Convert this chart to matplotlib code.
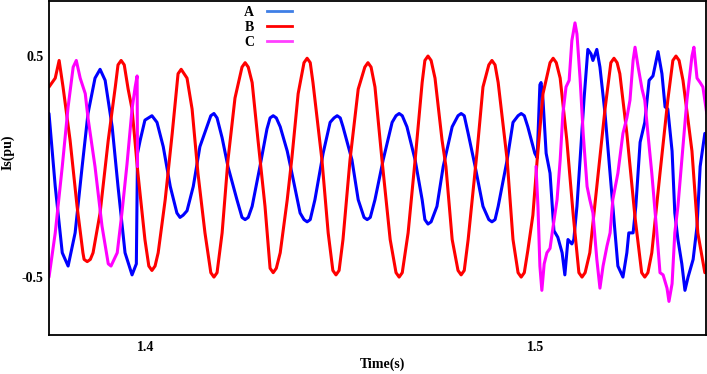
import numpy as np
import matplotlib.pyplot as plt
from matplotlib.lines import Line2D

# phase A current (pu)
t_a = [1.3751, 1.3767, 1.3785, 1.3800, 1.3818, 1.3836, 1.3851, 1.3869, 1.3882, 1.3895,
       1.3913, 1.3928, 1.3946, 1.3964, 1.3975, 1.3978, 1.3985, 1.3997, 1.4015, 1.4028,
       1.4044, 1.4062, 1.4079, 1.4087, 1.4095, 1.4105, 1.4121, 1.4138, 1.4156, 1.4166,
       1.4174, 1.4182, 1.4195, 1.4210, 1.4233, 1.4246, 1.4254, 1.4262, 1.4272, 1.4292,
       1.4310, 1.4318, 1.4326, 1.4334, 1.4344, 1.4362, 1.4374, 1.4395, 1.4405, 1.4413,
       1.4421, 1.4433, 1.4454, 1.4472, 1.4482, 1.4490, 1.4498, 1.4505, 1.4528, 1.4544,
       1.4559, 1.4567, 1.4575, 1.4587, 1.4608, 1.4631, 1.4641, 1.4649, 1.4657, 1.4669,
       1.4690, 1.4708, 1.4715, 1.4723, 1.4731, 1.4746, 1.4762, 1.4785, 1.4800, 1.4808,
       1.4816, 1.4826, 1.4844, 1.4864, 1.4879, 1.4887, 1.4895, 1.4903, 1.4926, 1.4941,
       1.4954, 1.4962, 1.4970, 1.4979, 1.4997, 1.5003, 1.5010, 1.5013, 1.5018, 1.5026,
       1.5036, 1.5046, 1.5056, 1.5067, 1.5074, 1.5082, 1.5092, 1.5097, 1.5105, 1.5113,
       1.5123, 1.5133, 1.5141, 1.5146, 1.5156, 1.5164, 1.5177, 1.5190, 1.5203, 1.5210,
       1.5223, 1.5233, 1.5238, 1.5249, 1.5256, 1.5267, 1.5279, 1.5290, 1.5300, 1.5313,
       1.5323, 1.5331, 1.5338, 1.5349, 1.5356, 1.5364, 1.5374, 1.5382, 1.5390, 1.5403,
       1.5413, 1.5421, 1.5433]
i_a = [0.24, -0.09, -0.39, -0.45, -0.30, 0.00, 0.24, 0.40, 0.44, 0.39,
       0.18, -0.09, -0.39, -0.49, -0.44, 0.06, 0.12, 0.21, 0.23, 0.20,
       0.09, -0.09, -0.21, -0.23, -0.22, -0.20, -0.09, 0.09, 0.18, 0.23,
       0.24, 0.22, 0.13, 0.00, -0.15, -0.23, -0.24, -0.23, -0.18, 0.00,
       0.17, 0.22, 0.23, 0.22, 0.18, 0.07, -0.03, -0.21, -0.24, -0.25,
       -0.24, -0.15, 0.06, 0.20, 0.22, 0.23, 0.22, 0.18, 0.03, -0.15,
       -0.23, -0.24, -0.23, -0.15, 0.03, 0.20, 0.23, 0.24, 0.23, 0.18,
       0.03, -0.15, -0.24, -0.26, -0.25, -0.18, 0.00, 0.18, 0.23, 0.24,
       0.23, 0.15, 0.00, -0.18, -0.24, -0.25, -0.24, -0.18, 0.03, 0.20,
       0.23, 0.24, 0.23, 0.18, 0.06, 0.04, 0.37, 0.38, 0.30, 0.06,
       -0.03, -0.29, -0.32, -0.39, -0.49, -0.33, -0.35, -0.33, -0.18, 0.03,
       0.30, 0.53, 0.51, 0.48, 0.53, 0.45, 0.24, -0.03, -0.30, -0.45,
       -0.50, -0.39, -0.30, -0.30, -0.18, 0.11, 0.20, 0.39, 0.41, 0.52,
       0.42, 0.27, 0.26, 0.07, -0.21, -0.33, -0.44, -0.56, -0.50, -0.42,
       -0.27, 0.00, 0.15]

# phase B current (pu)
t_b = [1.3751, 1.3767, 1.3777, 1.3787, 1.3805, 1.3823, 1.3838, 1.3841, 1.3849, 1.3857,
       1.3864, 1.3882, 1.3903, 1.3921, 1.3928, 1.3936, 1.3944, 1.3954, 1.3964, 1.3979,
       1.3997, 1.4007, 1.4015, 1.4023, 1.4031, 1.4049, 1.4067, 1.4082, 1.4090, 1.4105,
       1.4118, 1.4133, 1.4151, 1.4166, 1.4174, 1.4182, 1.4195, 1.4210, 1.4228, 1.4246,
       1.4254, 1.4262, 1.4272, 1.4287, 1.4305, 1.4318, 1.4326, 1.4334, 1.4344, 1.4362,
       1.4374, 1.4390, 1.4405, 1.4413, 1.4421, 1.4428, 1.4451, 1.4467, 1.4479, 1.4487,
       1.4495, 1.4505, 1.4523, 1.4544, 1.4561, 1.4569, 1.4577, 1.4587, 1.4605, 1.4626,
       1.4641, 1.4649, 1.4657, 1.4672, 1.4690, 1.4708, 1.4715, 1.4723, 1.4731, 1.4741,
       1.4759, 1.4769, 1.4785, 1.4800, 1.4808, 1.4816, 1.4826, 1.4849, 1.4864, 1.4879,
       1.4887, 1.4895, 1.4903, 1.4926, 1.4941, 1.4954, 1.4962, 1.4970, 1.4979, 1.4992,
       1.5003, 1.5018, 1.5036, 1.5044, 1.5052, 1.5062, 1.5079, 1.5095, 1.5110, 1.5118,
       1.5126, 1.5138, 1.5156, 1.5177, 1.5192, 1.5200, 1.5208, 1.5215, 1.5233, 1.5254,
       1.5271, 1.5279, 1.5287, 1.5297, 1.5318, 1.5338, 1.5351, 1.5359, 1.5367, 1.5377,
       1.5400, 1.5415, 1.5433]
i_b = [0.36, 0.40, 0.48, 0.36, 0.12, -0.18, -0.39, -0.42, -0.43, -0.42,
       -0.39, -0.21, 0.12, 0.36, 0.46, 0.48, 0.46, 0.35, 0.26, -0.03,
       -0.33, -0.45, -0.47, -0.45, -0.39, -0.15, 0.15, 0.42, 0.44, 0.40,
       0.26, -0.03, -0.30, -0.48, -0.50, -0.48, -0.30, 0.03, 0.31, 0.45,
       0.47, 0.45, 0.38, 0.12, -0.18, -0.46, -0.48, -0.46, -0.39, -0.15,
       0.04, 0.33, 0.47, 0.49, 0.47, 0.38, 0.03, -0.30, -0.47, -0.49,
       -0.47, -0.33, 0.03, 0.35, 0.45, 0.47, 0.45, 0.36, 0.03, -0.33,
       -0.48, -0.50, -0.48, -0.30, 0.03, 0.38, 0.48, 0.50, 0.48, 0.40,
       0.12, 0.00, -0.33, -0.47, -0.49, -0.47, -0.33, 0.07, 0.36, 0.46,
       0.48, 0.46, 0.38, 0.03, -0.33, -0.48, -0.50, -0.48, -0.38, -0.22,
       0.03, 0.33, 0.47, 0.49, 0.47, 0.40, 0.12, -0.21, -0.48, -0.50,
       -0.48, -0.39, -0.09, 0.26, 0.47, 0.49, 0.47, 0.42, 0.15, -0.23,
       -0.48, -0.50, -0.48, -0.39, -0.03, 0.30, 0.48, 0.50, 0.48, 0.39,
       0.07, -0.30, -0.48]

# phase C current (pu), open between the two segments
t_c = [1.3751, 1.3767, 1.3785, 1.3800, 1.3813, 1.3821, 1.3831, 1.3844, 1.3851, 1.3869,
       1.3887, 1.3903, 1.3910, 1.3926, 1.3938, 1.3951, 1.3964, 1.3972, 1.3977, 1.3978,
       1.4500,
       1.5000, 1.5005, 1.5010, 1.5015, 1.5021, 1.5028, 1.5036, 1.5044, 1.5054, 1.5062,
       1.5069, 1.5077, 1.5085, 1.5092, 1.5100, 1.5105, 1.5113, 1.5121, 1.5131, 1.5138,
       1.5146, 1.5156, 1.5164, 1.5172, 1.5182, 1.5190, 1.5197, 1.5210, 1.5223, 1.5233,
       1.5241, 1.5249, 1.5254, 1.5262, 1.5272, 1.5279, 1.5287, 1.5297, 1.5310, 1.5318,
       1.5326, 1.5336, 1.5341, 1.5349, 1.5356, 1.5364, 1.5374, 1.5387, 1.5400, 1.5405,
       1.5413, 1.5421, 1.5428, 1.5438]
i_c = [-0.50, -0.30, 0.00, 0.27, 0.45, 0.48, 0.40, 0.33, 0.22, 0.00,
       -0.27, -0.44, -0.45, -0.39, -0.21, 0.01, 0.26, 0.36, 0.41, 0.00,
       np.nan,
       0.00, -0.18, -0.45, -0.56, -0.44, -0.39, -0.37, -0.27, -0.15, 0.03,
       0.24, 0.36, 0.39, 0.57, 0.65, 0.60, 0.40, 0.15, -0.09, -0.15,
       -0.21, -0.42, -0.55, -0.45, -0.36, -0.30, -0.15, -0.03, 0.15, 0.22,
       0.30, 0.48, 0.54, 0.45, 0.35, 0.30, 0.15, -0.03, -0.30, -0.48,
       -0.49, -0.55, -0.61, -0.53, -0.30, -0.18, 0.03, 0.30, 0.50, 0.54,
       0.40, 0.38, 0.36, 0.24]

labels = ['A', 'B', 'C']
colors = ['#0000ff', '#ff0000', '#ff00ff']
legend_colors = ['#3f7fe6', '#ff0000', '#ff40ff']

plt.rcParams['font.family'] = ['Liberation Serif', 'DejaVu Serif']
plt.rcParams['font.weight'] = 'bold'

fig = plt.figure(figsize=(7.07, 3.74), dpi=100)
ax = fig.add_axes([49 / 707, 1 - 335 / 374, 657 / 707, 334 / 374])

for t, i, c in zip([t_a, t_b, t_c], [i_a, i_b, i_c], colors):
    ax.plot(t, i, color=c, lw=2.2, solid_joinstyle='round', solid_capstyle='round')

ax.set_xlim(1.3751, 1.5436)
ax.set_ylim(-0.762, 0.749)
ax.set_xticks([1.4, 1.5])
ax.set_xticklabels(['1.4', '1.5'])
ax.set_yticks([-0.5, 0.5])
ax.set_yticklabels(['-0.5', '0.5'])
ax.tick_params(length=0, labelsize=10, pad=4)
for lab in ax.get_xticklabels() + ax.get_yticklabels():
    lab.set_fontweight('bold')
for s in ax.spines.values():
    s.set_linewidth(1.3)
    s.set_color('black')

ax.set_xlabel('Time(s)', fontsize=10, fontweight='bold')
ax.xaxis.set_label_coords((383 - 49) / 657, -(358 - 335) / 334)
ax.set_ylabel('Is(pu)', fontsize=10, fontweight='bold')
ax.yaxis.set_label_coords(-(49 - 15) / 657, (335 - 152) / 334)

handles = [Line2D([], [], color=c, lw=2) for c in legend_colors]
ax.legend(handles, labels, loc='upper left', bbox_to_anchor=((244 - 49) / 657, (335 - 6) / 334),
          frameon=False, markerfirst=False, handlelength=1.8, handletextpad=0.95,
          labelspacing=0.15, borderpad=0, borderaxespad=0,
          prop={'family': 'Liberation Serif', 'weight': 'bold', 'size': 10})

fig.savefig('out.png', dpi=100)
